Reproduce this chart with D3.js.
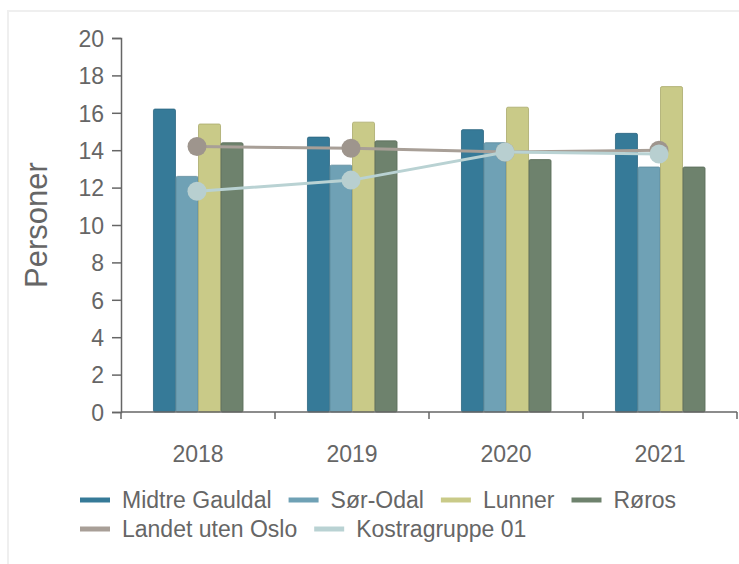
<!DOCTYPE html>
<html>
<head>
<meta charset="utf-8">
<script src="https://cdn.jsdelivr.net/npm/d3@7"></script>
<style>
  body { margin: 0; background: #fff; }
  svg text { font-family: "Liberation Sans", Arial, sans-serif; }
</style>
</head>
<body>
<div id="chart"></div>
<script>
// data
var years = ["2018", "2019", "2020", "2021"]
var barSeries = ["Midtre Gauldal", "Sør-Odal", "Lunner", "Røros"]
var midtreGauldal = [16.2, 14.7, 15.1, 14.9]
var sorOdal = [12.6, 13.2, 14.4, 13.1]
var lunner = [15.4, 15.5, 16.3, 17.4]
var roros = [14.4, 14.5, 13.5, 13.1]
var lineSeries = ["Landet uten Oslo", "Kostragruppe 01"]
var landetUtenOslo = [14.2, 14.1, 13.9, 14.0]
var kostragruppe01 = [11.8, 12.4, 13.9, 13.8]
var yTicks = [0, 2, 4, 6, 8, 10, 12, 14, 16, 18, 20]

function drawChart() {
    var barValues = [midtreGauldal, sorOdal, lunner, roros]
    var lineValues = [landetUtenOslo, kostragruppe01]

    var barColors = ["#367a98", "#6fa1b5", "#c9ca88", "#6e826d"]
    var barStrokes = ["#2c6680", "#5d8a9c", "#a9aa6c", "#5a6c59"]
    var lineColors = ["#a89f97", "#b9d2d3"]
    var dotColors = ["#9e958d", "#b8cfd0"]

    var width = 739, height = 564
    var svg = d3.select("#chart").append("svg")
        .attr("width", width).attr("height", height)

    // light frame around the panel
    svg.append("path")
        .attr("d", "M8,564 V11 H739")
        .attr("fill", "none")
        .attr("stroke", "#efefef")
        .attr("stroke-width", 2)

    var plotLeft = 121, plotRight = 737, plotTop = 38, plotBottom = 412

    var x0 = d3.scaleBand().domain(years).range([plotLeft, plotRight]).padding(0)
    var bw = x0.bandwidth()
    var groupW = bw * 0.585
    var x1 = d3.scaleBand().domain(barSeries)
        .range([(bw - groupW) / 2, (bw + groupW) / 2]).padding(0)
    var y = d3.scaleLinear().domain([0, 20]).range([plotBottom, plotTop])

    // bars
    barSeries.forEach(function(name, s) {
        svg.append("g").selectAll("rect")
            .data(barValues[s])
            .enter().append("rect")
            .attr("x", function(d, i) { return x0(years[i]) + x1(name) + 0.5 })
            .attr("y", function(d) { return y(d) })
            .attr("width", x1.bandwidth() - 0.5)
            .attr("height", function(d) { return y(0) - y(d) })
            .attr("rx", 1.5)
            .attr("fill", barColors[s])
            .attr("stroke", barStrokes[s])
            .attr("stroke-width", 0.8)
    })

    // y axis
    var yAxis = svg.append("g")
        .attr("transform", "translate(" + plotLeft + ",0)")
        .call(d3.axisLeft(y).tickValues(yTicks).tickSize(9).tickPadding(8))
    yAxis.select(".domain").attr("stroke", "#666").attr("stroke-width", 1.5)
    yAxis.selectAll(".tick line").attr("stroke", "#666").attr("stroke-width", 1.5)
    yAxis.selectAll("text").attr("fill", "#666").style("font-size", "23px")
        .attr("dy", "0.36em")

    // x axis
    var xAxis = svg.append("g")
        .attr("transform", "translate(0," + plotBottom + ")")
    xAxis.append("line")
        .attr("x1", plotLeft).attr("x2", plotRight)
        .attr("stroke", "#666").attr("stroke-width", 1.5)
    xAxis.selectAll("line.tk")
        .data(years.concat(["end"]))
        .enter().append("line")
        .attr("class", "tk")
        .attr("x1", function(d, i) { return plotLeft + i * bw })
        .attr("x2", function(d, i) { return plotLeft + i * bw })
        .attr("y1", 0).attr("y2", 7)
        .attr("stroke", "#666").attr("stroke-width", 1.5)
    xAxis.selectAll("text")
        .data(years)
        .enter().append("text")
        .attr("x", function(d) { return x0(d) + bw / 2 })
        .attr("y", 50)
        .attr("text-anchor", "middle")
        .attr("fill", "#666")
        .style("font-size", "23px")
        .text(function(d) { return d })

    // y title
    svg.append("text")
        .attr("transform", "translate(47,225) rotate(-90)")
        .attr("text-anchor", "middle")
        .attr("fill", "#666")
        .style("font-size", "31px")
        .text("Personer")

    // lines with dots
    var line = d3.line()
        .x(function(d, i) { return x0(years[i]) + bw / 2 })
        .y(function(d) { return y(d) })

    lineSeries.forEach(function(name, s) {
        var g = svg.append("g")
        g.append("path")
            .datum(lineValues[s])
            .attr("d", line)
            .attr("fill", "none")
            .attr("stroke", lineColors[s])
            .attr("stroke-width", 3)
        g.selectAll("circle")
            .data(lineValues[s])
            .enter().append("circle")
            .attr("cx", function(d, i) { return x0(years[i]) + bw / 2 - 1 })
            .attr("cy", function(d) { return y(d) })
            .attr("r", 9.5)
            .attr("fill", dotColors[s])
    })

    // legend
    var legendItems = barSeries.map(function(n, i) { return { name: n, color: barColors[i] } })
        .concat(lineSeries.map(function(n, i) { return { name: n, color: lineColors[i] } }))

    var legend = svg.append("g")
    var lx = 80, ly = 508, maxX = 710
    legendItems.forEach(function(it) {
        var item = legend.append("g")
        item.append("line")
            .attr("x1", 0).attr("x2", 30)
            .attr("y1", -8).attr("y2", -8)
            .attr("stroke", it.color)
            .attr("stroke-width", 5)
        var t = item.append("text")
            .attr("x", 42)
            .attr("fill", "#666")
            .style("font-size", "23px")
            .text(it.name)
        var w = 42 + t.node().getComputedTextLength()
        if (lx + w > maxX) {
            lx = 80
            ly += 29
        }
        item.attr("transform", "translate(" + lx + "," + ly + ")")
        lx += w + 17
    })
}

drawChart()
</script>
</body>
</html>
